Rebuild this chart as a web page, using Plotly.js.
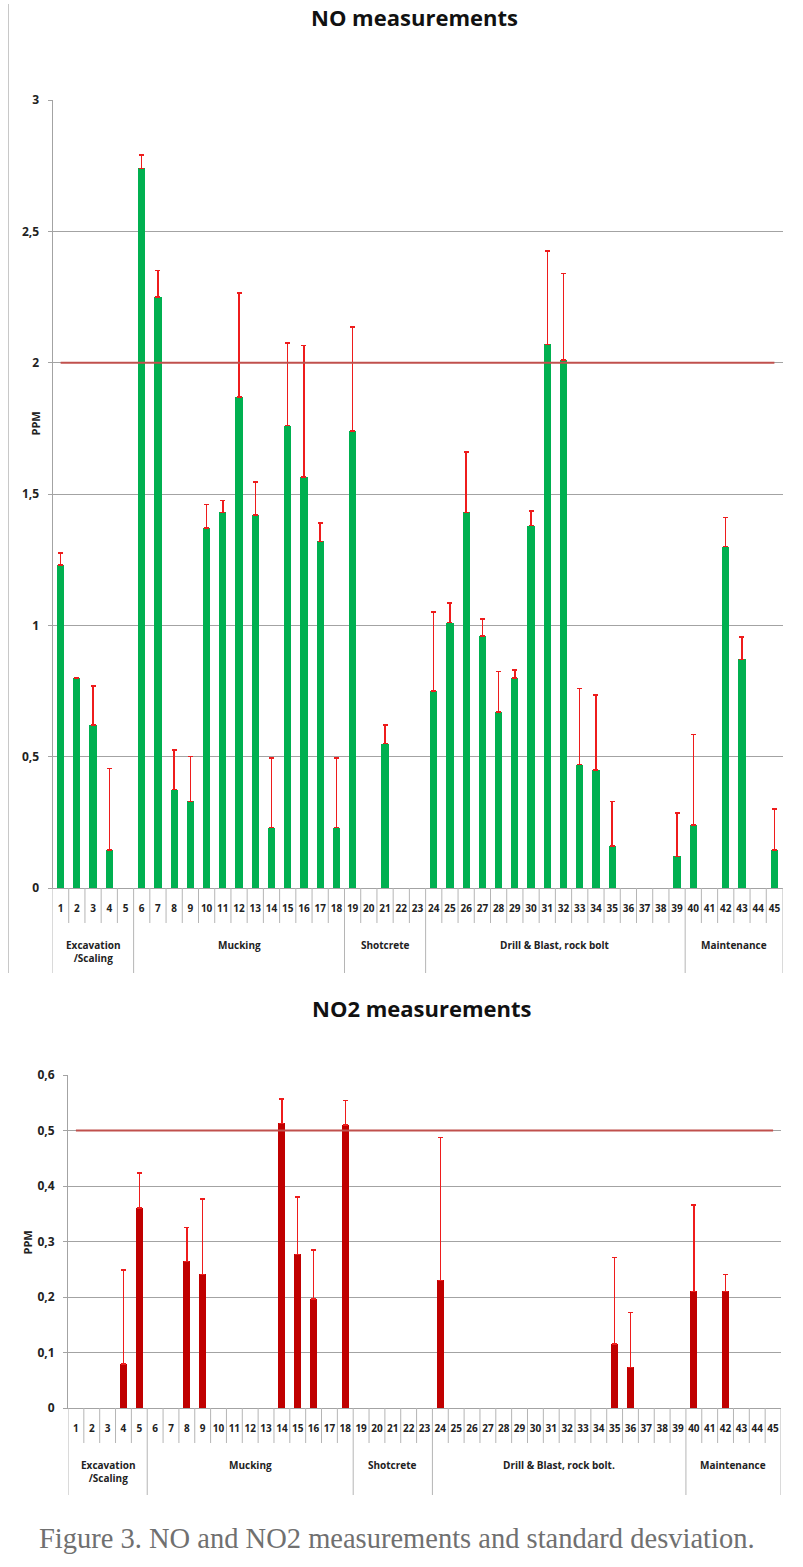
<!DOCTYPE html>
<html>
<head>
<meta charset="utf-8">
<script src="https://cdn.plot.ly/plotly-3.0.1.min.js"></script>
<style>
  html, body { margin: 0; padding: 0; background: #fff; }
  #chart { width: 803px; height: 1567px; }
</style>
</head>
<body>
<div id="chart"></div>
<script>
// measurement number on the x axis
var cats = [1,2,3,4,5,6,7,8,9,10,11,12,13,14,15,16,17,18,19,20,21,22,23,
            24,25,26,27,28,29,30,31,32,33,34,35,36,37,38,39,40,41,42,43,44,45]

// NO (ppm) and its standard deviation
var noVals = [1.23,0.80,0.62,0.145,null,2.74,2.25,0.375,0.33,1.37,1.43,1.87,1.42,0.23,1.76,1.565,1.32,0.23,1.74,null,0.55,null,null,
              0.75,1.01,1.43,0.96,0.67,0.80,1.38,2.07,2.01,0.47,0.45,0.16,null,null,null,0.12,0.24,null,1.30,0.87,null,0.145]
var noErr  = [0.045,null,0.15,0.31,null,0.05,0.10,0.15,0.17,0.09,0.045,0.395,0.125,0.265,0.315,0.50,0.07,0.265,0.395,null,0.07,null,null,
              0.30,0.075,0.23,0.065,0.155,0.03,0.055,0.355,0.33,0.29,0.285,0.17,null,null,null,0.165,0.345,null,0.11,0.085,null,0.155]

// NO2 (ppm) and its standard deviation
var no2Vals = [null,null,null,0.079,0.36,null,null,0.264,0.241,null,null,null,null,0.513,0.277,0.196,null,0.51,null,null,null,null,null,
               0.23,null,null,null,null,null,null,null,null,null,null,0.115,0.073,null,null,null,0.21,null,0.21,null,null,null]
var no2Err  = [null,null,null,0.17,0.063,null,null,0.061,0.136,null,null,null,null,0.044,0.103,0.089,null,0.044,null,null,null,null,null,
               0.257,null,null,null,null,null,null,null,null,null,null,0.156,0.099,null,null,null,0.156,null,0.031,null,null,null]

// limit values (red lines)
var noLimit = 2
var no2Limit = 0.5

// activity groups: label and last measurement of each group
var groupsTop = ['Excavation<br>/Scaling','Mucking','Shotcrete','Drill & Blast, rock bolt','Maintenance']
var groupsBottom = ['Excavation<br>/Scaling','Mucking','Shotcrete','Drill & Blast, rock bolt.','Maintenance']
var groupEnds = [5,18,23,39,45]

var W = 803, H = 1567
function px(p) { return p / W }
function py(p) { return 1 - p / H }

var gridCol = '#a3a3a3'
var sepCol = '#b5b5b5'
var labelFont = {family: 'Open Sans, sans-serif', size: 10, color: '#222', weight: 'bold'}

function barTrace(vals, errs, color, xa, ya) {
	return {
		x: cats, y: vals, type: 'bar', xaxis: xa, yaxis: ya,
		width: 0.44,
		marker: {color: color, line: {width: 0}},
		error_y: {type: 'data', symmetric: false, array: errs, arrayminus: errs.map(function(){ return 0 }),
		          color: '#ee1c1c', thickness: 1.5, width: 2.5},
		hoverinfo: 'x+y'
	}
}

function limitTrace(v, xa, ya) {
	return {
		x: [cats[0], cats[cats.length-1]], y: [v, v],
		mode: 'lines', xaxis: xa, yaxis: ya,
		line: {color: '#c0504d', width: 2},
		hoverinfo: 'skip'
	}
}

// cell separators under the x axis
function separators(xref, axisPx, numPx, groupPx) {
	var out = []
	for (var i = 0; i <= cats.length; i++) {
		var isGroup = (i === 0) || groupEnds.indexOf(i) >= 0
		out.push({type: 'line', xref: xref, yref: 'paper',
			x0: i + 0.5, x1: i + 0.5, y0: py(axisPx), y1: py(isGroup ? groupPx : numPx),
			line: {color: sepCol, width: 1}})
	}
	return out
}

function groupLabels(names, xref, topPx) {
	var out = [], start = 1
	groupEnds.forEach(function(end, k) {
		out.push({text: names[k], xref: xref, yref: 'paper', x: (start + end) / 2, y: py(topPx),
			yanchor: 'top', showarrow: false, align: 'center',
			font: {family: 'Open Sans, sans-serif', size: 10, color: '#222', weight: 'bold'}})
		start = end + 1
	})
	return out
}

function yAxis(domTop, domBot, range, dtick, anchor) {
	return {
		domain: [py(domBot), py(domTop)], range: range, dtick: dtick, anchor: anchor,
		showgrid: true, gridcolor: gridCol, gridwidth: 1,
		showline: true, linecolor: gridCol, linewidth: 1,
		ticks: 'outside', ticklen: 4, tickcolor: gridCol,
		ticklabelstandoff: 6,
		tickfont: {family: 'Open Sans, sans-serif', size: 12, color: '#222', weight: 'bold'},
		zeroline: false, fixedrange: true
	}
}

function xAxis(left, right, anchor) {
	return {
		domain: [px(left), px(right)], range: [0.5, cats.length + 0.5], anchor: anchor,
		tickvals: cats, ticktext: cats.map(String), ticks: '', ticklabelstandoff: 11,
		tickfont: labelFont, tickangle: 0,
		showline: true, linecolor: gridCol, linewidth: 1,
		showgrid: false, zeroline: false, fixedrange: true
	}
}

var traces = [
	barTrace(noVals, noErr, '#00b050', 'x', 'y'),
	limitTrace(noLimit, 'x', 'y'),
	barTrace(no2Vals, no2Err, '#c00000', 'x2', 'y2'),
	limitTrace(no2Limit, 'x2', 'y2')
]

var shapes = [
	// frame line at the left of the first chart
	{type: 'line', xref: 'paper', yref: 'paper', x0: px(8.5), x1: px(8.5), y0: py(4), y1: py(973),
	 line: {color: '#c8c8c8', width: 1}}
].concat(separators('x', 888, 923, 973), separators('x2', 1408, 1443, 1495))

var annotations = [
	{text: 'NO measurements', xref: 'paper', yref: 'paper', x: px(415), y: py(17), yanchor: 'middle', showarrow: false,
	 font: {family: 'Open Sans, sans-serif', size: 22, color: '#111', weight: 'bold'}},
	{text: 'NO2 measurements', xref: 'paper', yref: 'paper', x: px(422), y: py(1008), yanchor: 'middle', showarrow: false,
	 font: {family: 'Open Sans, sans-serif', size: 22, color: '#111', weight: 'bold'}},
	{text: 'PPM', xref: 'paper', yref: 'paper', x: px(25), y: py(424), yanchor: 'middle', showarrow: false, textangle: -90,
	 font: {family: 'Open Sans, sans-serif', size: 11, color: '#222', weight: 'bold'}},
	{text: 'PPM', xref: 'paper', yref: 'paper', x: px(17), y: py(1243), yanchor: 'middle', showarrow: false, textangle: -90,
	 font: {family: 'Open Sans, sans-serif', size: 11, color: '#222', weight: 'bold'}},
	{text: 'Figure 3. NO and NO2 measurements and standard desviation.', xref: 'paper', yref: 'paper',
	 x: px(397), y: py(1538), yanchor: 'middle', showarrow: false,
	 font: {family: 'Liberation Serif, serif', size: 28.5, color: '#707070'}}
].concat(groupLabels(groupsTop, 'x', 936), groupLabels(groupsBottom, 'x2', 1456))

var layout = {
	width: W, height: H,
	margin: {l: 0, r: 0, t: 0, b: 0},
	paper_bgcolor: '#fff', plot_bgcolor: '#fff',
	showlegend: false,
	separators: ',.',
	bargap: 0,
	xaxis: xAxis(52.5, 782.5, 'y'),
	yaxis: yAxis(100, 888, [0, 3], 0.5, 'x'),
	xaxis2: xAxis(68, 781, 'y2'),
	yaxis2: yAxis(1075, 1408, [0, 0.6], 0.1, 'x2'),
	shapes: shapes,
	annotations: annotations
}

Plotly.newPlot('chart', traces, layout, {displayModeBar: false, staticPlot: true})
</script>
</body>
</html>
